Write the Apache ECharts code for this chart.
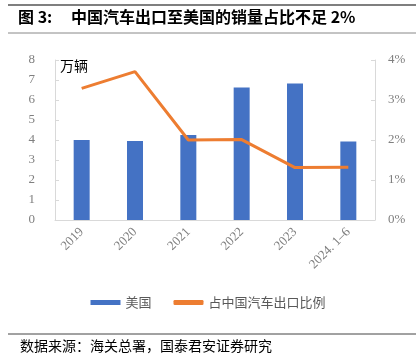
<!DOCTYPE html>
<html><head><meta charset="utf-8">
<script src="https://cdn.jsdelivr.net/npm/echarts@6/dist/echarts.min.js"></script>
<style>html,body{margin:0;padding:0;background:#fff}#c{width:416px;height:361px}</style>
</head><body><div id="c"></div>
<script>
const categories = ['2019','2020','2021','2022','2023','2024. 1–6'];
const usVolume = [4.0, 3.95, 4.25, 6.63, 6.83, 3.92];
const shareOfExports = [3.29, 3.71, 2.0, 2.01, 1.31, 1.32];
const leftTicks = [0,1,2,3,4,5,6,7,8];
const rightTicks = [0,1,2,3,4];

const chart = echarts.init(document.getElementById('c'), null, {renderer:'canvas'});
const serif = '"Liberation Serif","Times New Roman",serif';
const cjk = '"Noto Sans CJK SC",sans-serif';
const gray = '#7f7f7f';
chart.setOption({
  animation:false,
  grid:{left:55,right:41,top:60,bottom:141,containLabel:false},
  graphic:[
    {type:'line',shape:{x1:8,y1:5,x2:416,y2:5},style:{stroke:'#555',lineWidth:1.5}},
    {type:'line',shape:{x1:8,y1:33,x2:416,y2:33},style:{stroke:'#888',lineWidth:1}},
    {type:'text',left:18,top:9,style:{text:'图 3:',font:'bold 16px '+cjk,fill:'#000'}},
    {type:'text',left:71,top:9,style:{text:'中国汽车出口至美国的销量占比不足 2%',font:'bold 16px '+cjk,fill:'#000'}},
    {type:'text',left:60,top:59,style:{text:'万辆',font:'14px '+cjk,fill:'#000'}},
    {type:'line',shape:{x1:8,y1:334,x2:416,y2:334},style:{stroke:'#444',lineWidth:1}},
    {type:'text',left:20,top:339,style:{text:'数据来源：海关总署，国泰君安证券研究',font:'14px '+cjk,fill:'#000'}}
  ],
  legend:{
    bottom:47,left:'center',itemWidth:30,itemHeight:5,itemGap:22,
    textStyle:{color:'#595959',fontSize:13,fontFamily:cjk},
    data:[{name:'美国',icon:'rect'},{name:'占中国汽车出口比例',icon:'roundRect'}]
  },
  xAxis:{
    type:'category',data:categories,
    axisLine:{lineStyle:{color:'#d9d9d9'}},
    axisTick:{show:false},
    axisLabel:{rotate:45,interval:0,color:gray,fontFamily:serif,fontSize:13,margin:10}
  },
  yAxis:[
    {type:'value',min:0,max:8,interval:1,
     axisLine:{show:true,lineStyle:{color:'#d9d9d9'}},
     axisTick:{show:true,inside:true,length:4,lineStyle:{color:'#d9d9d9'}},
     splitLine:{show:false},
     axisLabel:{color:gray,fontFamily:serif,fontSize:13,margin:20}},
    {type:'value',min:0,max:4,interval:1,position:'right',
     axisLine:{show:true,lineStyle:{color:'#d9d9d9'}},
     axisTick:{show:true,inside:true,length:4,lineStyle:{color:'#d9d9d9'}},
     splitLine:{show:false},
     axisLabel:{color:gray,fontFamily:serif,fontSize:13,margin:13,formatter:'{value}%'}}
  ],
  series:[
    {name:'美国',type:'bar',data:usVolume,barWidth:16,itemStyle:{color:'#4472C4'}},
    {name:'占中国汽车出口比例',type:'line',yAxisIndex:1,data:shareOfExports,
     symbol:'none',lineStyle:{color:'#ED7D31',width:3},itemStyle:{color:'#ED7D31'}}
  ]
});
</script></body></html>
